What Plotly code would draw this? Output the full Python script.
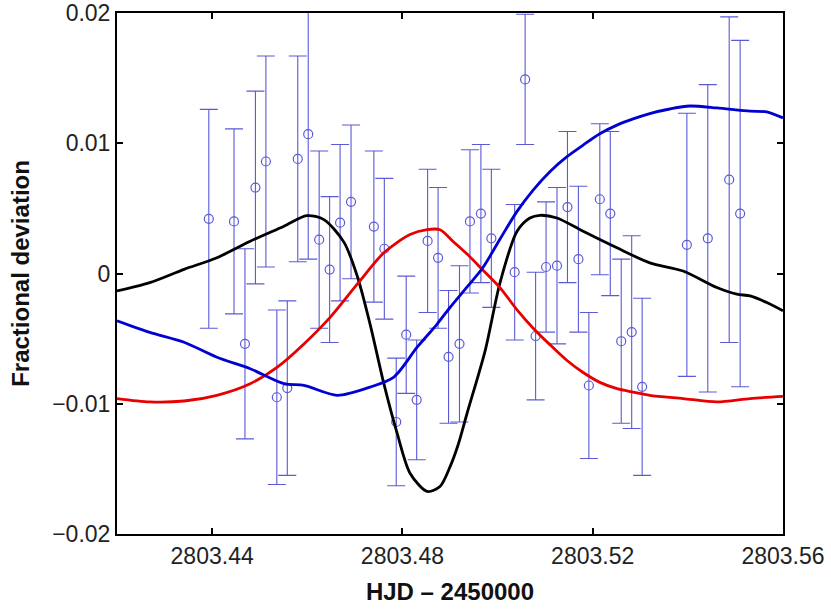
import plotly.graph_objects as go

# Observed photometry (HJD - 2450000, fractional deviation, 1-sigma error)
obs_x = [2803.4393, 2803.4446, 2803.4469, 2803.4491, 2803.4513, 2803.4536, 2803.4558,
         2803.4580, 2803.4602, 2803.4625, 2803.4647, 2803.4669, 2803.4692, 2803.4740,
         2803.4762, 2803.4787, 2803.4808, 2803.4830, 2803.4853, 2803.4875, 2803.4897,
         2803.4920, 2803.4942, 2803.4965, 2803.4987, 2803.5036, 2803.5058, 2803.5080,
         2803.5102, 2803.5125, 2803.5147, 2803.5170, 2803.5192, 2803.5215, 2803.5237,
         2803.5260, 2803.5282, 2803.5304, 2803.5398, 2803.5442, 2803.5487, 2803.5510]
obs_y = [0.0042, 0.0040, -0.0054, 0.0066, 0.0086, -0.0095, -0.0088, 0.0088, 0.0107,
         0.0026, 0.0003, 0.0039, 0.0055, 0.0036, 0.0019, -0.0114, -0.0047, -0.0097,
         0.0025, 0.0012, -0.0064, -0.0054, 0.0040, 0.0046, 0.0027, 0.0001, 0.0149,
         -0.0048, 0.0005, 0.0006, 0.0051, 0.0011, -0.0086, 0.0057, 0.0046, -0.0052,
         -0.0045, -0.0087, 0.0022, 0.0027, 0.0072, 0.0046]
obs_err = [0.0084, 0.0071, 0.0073, 0.0074, 0.0081, 0.0067, 0.0067, 0.0079, 0.0096,
           0.0068, 0.0056, 0.0060, 0.0059, 0.0058, 0.0054, 0.0049, 0.0045, 0.0046,
           0.0055, 0.0054, 0.0051, 0.0060, 0.0055, 0.0053, 0.0053, 0.0052, 0.0050,
           0.0049, 0.0050, 0.0060, 0.0058, 0.0056, 0.0056, 0.0058, 0.0063, 0.0063,
           0.0074, 0.0068, 0.0101, 0.0118, 0.0125, 0.0133]

# Model curves
black_x = [2803.4200, 2803.4269, 2803.4341, 2803.4410, 2803.4480, 2803.4551, 2803.4599,
           2803.4635, 2803.4677, 2803.4705, 2803.4732, 2803.4761, 2803.4789, 2803.4816,
           2803.4852, 2803.4879, 2803.4900, 2803.4917, 2803.4936, 2803.4974, 2803.5005,
           2803.5041, 2803.5068, 2803.5089, 2803.5125, 2803.5180, 2803.5251, 2803.5320,
           2803.5390, 2803.5461, 2803.5503, 2803.5531, 2803.5566, 2803.5600]
black_y = [-0.00134, -0.00070, 0.00032, 0.00121, 0.00248, 0.00363, 0.00444,
           0.00414, 0.00241, -0.00019, -0.00388, -0.00846, -0.01228, -0.01533,
           -0.01673, -0.01635, -0.01485, -0.01317, -0.01073, -0.00592, -0.00073,
           0.00324, 0.00426, 0.00447, 0.00426, 0.00324, 0.00197, 0.00082,
           0.00019, -0.00108, -0.00159, -0.00172, -0.00223, -0.00286]

red_x = [2803.4200, 2803.4269, 2803.4341, 2803.4410, 2803.4480, 2803.4537, 2803.4593,
         2803.4648, 2803.4705, 2803.4761, 2803.4816, 2803.4852, 2803.4879, 2803.4906,
         2803.4936, 2803.4969, 2803.5005, 2803.5041, 2803.5074, 2803.5110, 2803.5146,
         2803.5180, 2803.5215, 2803.5251, 2803.5285, 2803.5320, 2803.5390, 2803.5461,
         2803.5531, 2803.5600]
red_y = [-0.00960, -0.00986, -0.00979, -0.00935, -0.00846, -0.00719, -0.00541,
         -0.00337, -0.00082, 0.00159, 0.00299, 0.00337, 0.00336, 0.00248,
         0.00149, 0.00027, -0.00108, -0.00279, -0.00416, -0.00546, -0.00668,
         -0.00760, -0.00836, -0.00884, -0.00910, -0.00935, -0.00960, -0.00986,
         -0.00960, -0.00943]

blue_x = [2803.4200, 2803.4269, 2803.4341, 2803.4410, 2803.4480, 2803.4551, 2803.4593,
          2803.4663, 2803.4732, 2803.4782, 2803.4831, 2803.4873, 2803.4900, 2803.4936,
          2803.4969, 2803.5005, 2803.5041, 2803.5074, 2803.5110, 2803.5146, 2803.5180,
          2803.5215, 2803.5251, 2803.5285, 2803.5320, 2803.5362, 2803.5404, 2803.5461,
          2803.5531, 2803.5566, 2803.5600]
blue_y = [-0.00363, -0.00452, -0.00528, -0.00643, -0.00731, -0.00846, -0.00859,
          -0.00935, -0.00872, -0.00795, -0.00566, -0.00388, -0.00261, -0.00103,
          0.00044, 0.00263, 0.00477, 0.00637, 0.00782, 0.00897, 0.00986,
          0.01073, 0.01139, 0.01187, 0.01228, 0.01263, 0.01286, 0.01271,
          0.01246, 0.01241, 0.01195]

x_ticks = [2803.44, 2803.48, 2803.52, 2803.56]
x_labels = ["2803.44", "2803.48", "2803.52", "2803.56"]
y_ticks = [-0.02, -0.01, 0, 0.01, 0.02]
y_labels = ["−0.02", "−0.01", "0", "0.01", "0.02"]

FONT = "Liberation Sans, Arial, Helvetica, sans-serif"
PT_COLOR = "#5a5ad8"

fig = go.Figure()
fig.add_trace(go.Scatter(
    x=obs_x, y=obs_y, mode="markers",
    marker=dict(symbol="circle-open", size=9, color=PT_COLOR, line=dict(width=1.2, color=PT_COLOR)),
    error_y=dict(type="data", array=obs_err, visible=True, color=PT_COLOR, thickness=1.1, width=9),
    showlegend=False,
))
fig.add_trace(go.Scatter(x=black_x, y=black_y, mode="lines", line=dict(color="#000000", width=2.8, shape="spline", smoothing=0.8), showlegend=False))
fig.add_trace(go.Scatter(x=red_x, y=red_y, mode="lines", line=dict(color="#e80000", width=2.8, shape="spline", smoothing=0.8), showlegend=False))
fig.add_trace(go.Scatter(x=blue_x, y=blue_y, mode="lines", line=dict(color="#0000d0", width=2.8, shape="spline", smoothing=0.8), showlegend=False))

axis_common = dict(
    showgrid=False, zeroline=False, showline=True, linecolor="black", linewidth=2,
    mirror="ticks", ticks="inside", ticklen=6, tickwidth=1.5, tickcolor="black",
    tickfont=dict(family=FONT, size=23, color="#222222"),
    automargin=False, ticklabeloverflow="allow",
)
fig.update_xaxes(range=[2803.42, 2803.56001], tickvals=x_ticks, ticktext=x_labels,
                 title=dict(text="<b>HJD – 2450000</b>", font=dict(family=FONT, size=24, color="#111111"), standoff=16),
                 **axis_common)
fig.update_yaxes(range=[-0.0200001, 0.0200001], tickvals=y_ticks, ticktext=y_labels,
                 title=dict(text="<b>Fractional deviation</b>", font=dict(family=FONT, size=24, color="#111111"), standoff=16),
                 **axis_common)
fig.update_layout(
    width=831, height=614,
    margin=dict(l=117, r=48, t=13, b=80),
    paper_bgcolor="white", plot_bgcolor="white",
)
fig.write_html("out.html", config={"displayModeBar": False},
               post_script="document.body.style.margin='0';")
